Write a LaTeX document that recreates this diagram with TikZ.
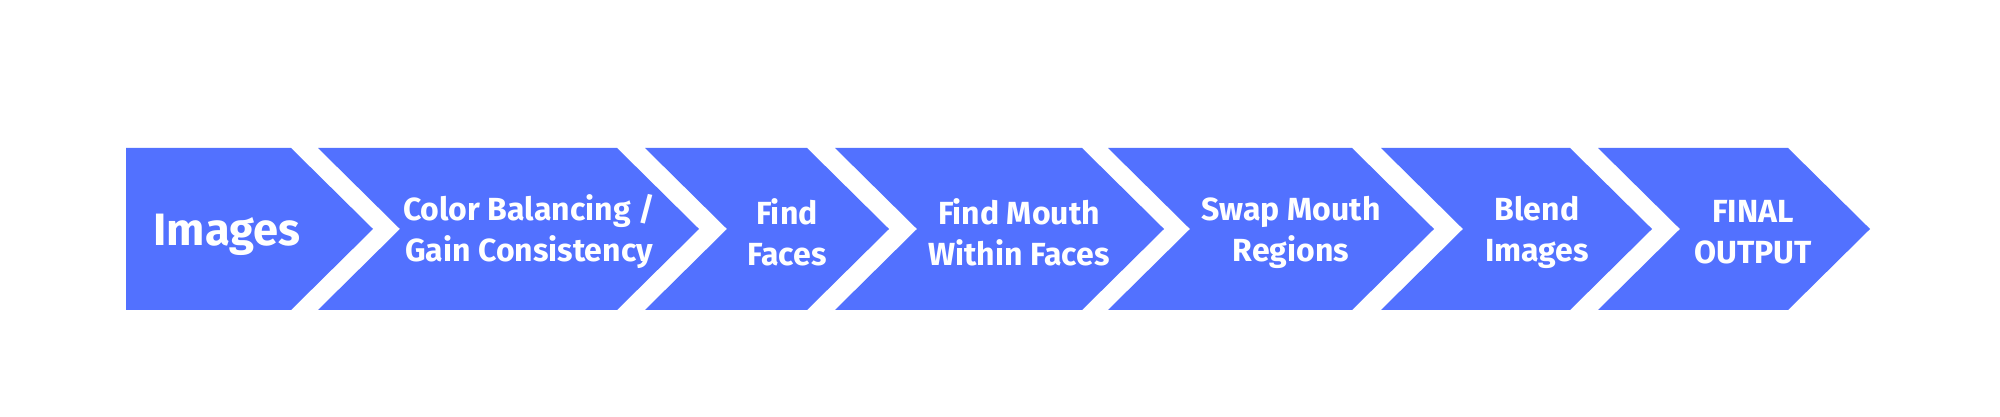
\documentclass[tikz,border=0pt]{standalone}
\usepackage{fontspec}
\setmainfont{Fira Sans}
\usetikzlibrary{positioning}
\definecolor{chevblue}{HTML}{5271FF}

\begin{document}
\begin{tikzpicture}[x=0.3pt, y=-0.3pt, every node/.style={font=\bfseries\fontsize{9.6}{12.3}\selectfont, text=white, align=center, inner sep=0pt}]
    \useasboundingbox (0,0) rectangle (2000,417);

    \foreach \l/\r/\n in {126/291/0, 318/617/82, 645/807/82, 835/1082/82, 1108/1352/82, 1381/1570/82, 1598/1788/82}
        \fill[chevblue] (\l,148) -- (\r,148) -- (\r+82,229) -- (\r,310) -- (\l,310) -- (\l+\n,229) -- cycle;

    \node[font=\bfseries\fontsize{13.6}{16}\selectfont] (img) at (227,235) {Images};
    \node (bal) at (529,232) {Color Balancing /\\Gain Consistency};
    \node (faces) at (787,232) {Find\\Faces};
    \node (mouth) at (1019,232) {Find Mouth\\Within Faces};
    \node (swap) at (1291,232) {Swap Mouth\\Regions};
    \node (blend) at (1537,232) {Blend\\Images};
    \node (final) at (1753,232) {FINAL\\OUTPUT};
\end{tikzpicture}
\end{document}
